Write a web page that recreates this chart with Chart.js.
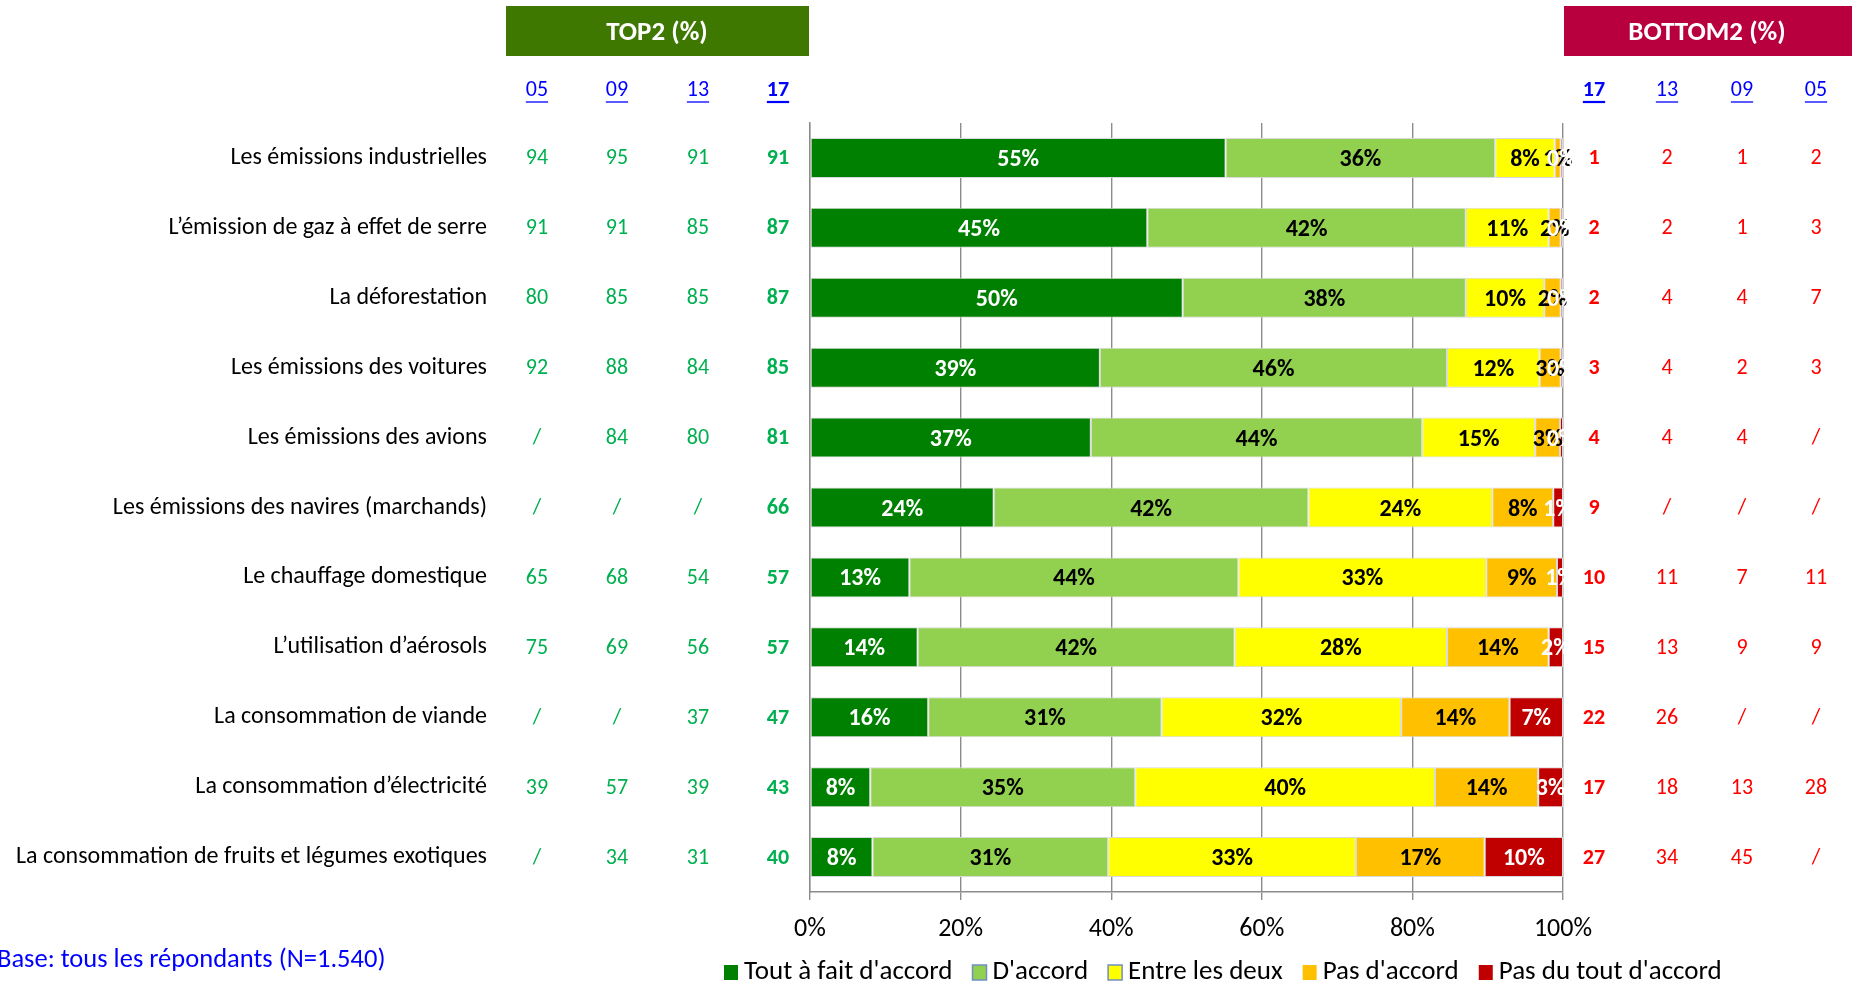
<!DOCTYPE html>
<html>
<head>
<meta charset="utf-8">
<script src="https://cdn.jsdelivr.net/npm/chart.js@4/dist/chart.umd.min.js"></script>
<style>
  html, body { margin: 0; padding: 0; background: #fff; }
  #wrap { width: 1858px; height: 984px; }
</style>
</head>
<body>
<div id="wrap"><canvas id="c" width="1858" height="984"></canvas></div>
<script>
// ---------- DATA ----------
const categories = [
  "Les émissions industrielles",
  "L’émission de gaz à effet de serre",
  "La déforestation",
  "Les émissions des voitures",
  "Les émissions des avions",
  "Les émissions des navires (marchands)",
  "Le chauffage domestique",
  "L’utilisation d’aérosols",
  "La consommation de viande",
  "La consommation d’électricité",
  "La consommation de fruits et légumes exotiques"
];
const seriesNames = ["Tout à fait d'accord", "D'accord", "Entre les deux", "Pas d'accord", "Pas du tout d'accord"];
const toutAFait   = [55.2, 44.8, 49.5, 38.5, 37.3, 24.4, 13.2, 14.3, 15.7,  8.0,  8.3];
const dAccord     = [35.8, 42.3, 37.6, 46.1, 44.0, 41.8, 43.7, 42.1, 31.0, 35.2, 31.3];
const entreDeux   = [ 7.9, 11.0, 10.4, 12.3, 15.0, 24.4, 32.9, 28.2, 31.8, 39.8, 32.9];
const pasDAccord  = [ 0.8,  1.6,  2.2,  2.8,  3.3,  8.1,  9.4, 13.5, 14.4, 13.7, 17.1];
const pasDuTout   = [ 0.3,  0.3,  0.3,  0.3,  0.4,  1.3,  0.8,  1.9,  7.1,  3.3, 10.4];

// TOP2 (%) by wave (null = "/")
const top2Years = ["05", "09", "13", "17"];
const top2_05 = [94, 91, 80, 92, null, null, 65, 75, null, 39, null];
const top2_09 = [95, 91, 85, 88, 84, null, 68, 69, null, 57, 34];
const top2_13 = [91, 85, 85, 84, 80, null, 54, 56, 37, 39, 31];
const top2_17 = [91, 87, 87, 85, 81, 66, 57, 57, 47, 43, 40];
// BOTTOM2 (%) by wave
const bottom2Years = ["17", "13", "09", "05"];
const bot2_17 = [1, 2, 2, 3, 4, 9, 10, 15, 22, 17, 27];
const bot2_13 = [2, 2, 4, 4, 4, null, 11, 13, 26, 18, 34];
const bot2_09 = [1, 1, 4, 2, 4, null, 7, 9, null, 13, 45];
const bot2_05 = [2, 3, 7, 3, null, null, 11, 9, null, 28, null];

const xTickValues = [0, 20, 40, 60, 80, 100];
const baseNote = "Base: tous les répondants (N=1.540)";

// ---------- STYLE ----------
const FONT = 'Carlito, Calibri, Lato, sans-serif';
const colors = ["#008000", "#92D050", "#FFFF00", "#FFC000", "#C00000"];
const labelColors = ["#ffffff", "#000000", "#000000", "#000000", "#ffffff"];
const gridColor = "#8c8c8c";

const seriesValues = [toutAFait, dAccord, entreDeux, pasDAccord, pasDuTout];
const datasets = seriesValues.map((vals, i) => ({
  label: seriesNames[i],
  data: vals,
  backgroundColor: colors[i],
  borderColor: "#d9d9d9",
  borderWidth: 1,
  borderSkipped: false,
  categoryPercentage: 1,
  barPercentage: 0.572
}));

const segLabels = {
  id: 'segLabels',
  afterDatasetsDraw(chart) {
    const ctx = chart.ctx;
    ctx.save();
    ctx.font = 'bold 24px ' + FONT;
    ctx.textAlign = 'center';
    ctx.textBaseline = 'middle';
    chart.data.datasets.forEach((ds, i) => {
      const meta = chart.getDatasetMeta(i);
      ctx.fillStyle = labelColors[i];
      meta.data.forEach((bar, j) => {
        const v = ds.data[j];
        const cx = (bar.x + bar.base) / 2;
        ctx.fillText(Math.round(v) + '%', cx, bar.y + 2);
      });
    });
    ctx.restore();
  }
};

function drawHeaderNum(ctx, txt, x, y, bold) {
  ctx.font = (bold ? 'bold ' : '') + '22px ' + FONT;
  ctx.fillStyle = '#0000FF';
  ctx.textAlign = 'center';
  ctx.textBaseline = 'middle';
  ctx.fillText(txt, x, y);
  const w = ctx.measureText(txt).width;
  ctx.strokeStyle = '#0000FF';
  ctx.lineWidth = bold ? 2.2 : 1.3;
  ctx.beginPath();
  ctx.moveTo(x - w / 2, y + 12);
  ctx.lineTo(x + w / 2, y + 12);
  ctx.stroke();
}

const tables = {
  id: 'tables',
  afterDraw(chart) {
    const ctx = chart.ctx;
    const yScale = chart.scales.y;
    ctx.save();
    // header boxes
    ctx.fillStyle = '#3F7800';
    ctx.fillRect(506, 6, 303, 50);
    ctx.fillStyle = '#B8003F';
    ctx.fillRect(1564, 6, 288, 50);
    ctx.fillStyle = '#ffffff';
    ctx.font = 'bold 27px ' + FONT;
    ctx.textAlign = 'center';
    ctx.textBaseline = 'middle';
    ctx.fillText('TOP2 (%)', 657, 33);
    ctx.fillText('BOTTOM2 (%)', 1707, 33);

    const topX = [537, 617, 698, 778];
    const botX = [1594, 1667, 1742, 1816];
    top2Years.forEach((yr, k) => drawHeaderNum(ctx, yr, topX[k], 90, yr === '17'));
    bottom2Years.forEach((yr, k) => drawHeaderNum(ctx, yr, botX[k], 90, yr === '17'));

    const topCols = [top2_05, top2_09, top2_13, top2_17];
    const botCols = [bot2_17, bot2_13, bot2_09, bot2_05];
    ctx.textBaseline = 'middle';
    categories.forEach((c, j) => {
      const y = yScale.getPixelForValue(j) + 1;
      // category label
      ctx.textAlign = 'right';
      ctx.font = '24px ' + FONT;
      ctx.fillStyle = '#000';
      ctx.fillText(c, 487, y - 1);
      ctx.textAlign = 'center';
      topCols.forEach((col, k) => {
        ctx.font = (k === 3 ? 'bold ' : '') + '22px ' + FONT;
        ctx.fillStyle = '#00B050';
        ctx.fillText(col[j] === null ? '/' : String(col[j]), topX[k], y);
      });
      botCols.forEach((col, k) => {
        ctx.font = (k === 0 ? 'bold ' : '') + '22px ' + FONT;
        ctx.fillStyle = '#FF0000';
        ctx.fillText(col[j] === null ? '/' : String(col[j]), botX[k], y);
      });
    });

    // legend
    ctx.font = '27px ' + FONT;
    ctx.textAlign = 'left';
    ctx.textBaseline = 'middle';
    let lx = 724;
    const ly = 972;
    chart.data.datasets.forEach((ds, i) => {
      ctx.fillStyle = colors[i];
      ctx.fillRect(lx, ly - 7, 14, 15);
      if (i === 1 || i === 2) {
        ctx.strokeStyle = '#6F8FC0';
        ctx.lineWidth = 1.5;
        ctx.strokeRect(lx, ly - 7, 14, 15);
      }
      ctx.fillStyle = '#000';
      ctx.fillText(ds.label, lx + 20, ly);
      lx += 20 + ctx.measureText(ds.label).width + 20;
    });

    // base note
    ctx.fillStyle = '#0000FF';
    ctx.font = '26.5px ' + FONT;
    ctx.textAlign = 'left';
    ctx.fillText(baseNote, -3, 960);
    ctx.restore();
  }
};

new Chart(document.getElementById('c'), {
  type: 'bar',
  data: { labels: categories, datasets },
  options: {
    indexAxis: 'y',
    responsive: false,
    animation: false,
    layout: { padding: { left: 0, right: 1858 - 1563, top: 123, bottom: 0 } },
    scales: {
      x: {
        stacked: true,
        min: 0,
        max: 100,
        afterBuildTicks: (s) => { s.ticks = xTickValues.map(v => ({ value: v })); },
        ticks: {
          callback: (v) => v + '%',
          font: { family: FONT, size: 26 },
          color: '#000',
          padding: 14,
          maxRotation: 0
        },
        grid: { color: gridColor, lineWidth: 1.4, tickLength: 8, drawTicks: true },
        border: { display: true, color: gridColor, width: 1.4 },
        afterFit: (s) => { s.height = 984 - 892; }
      },
      y: {
        stacked: true,
        grid: { display: false, drawTicks: false },
        border: { display: true, color: gridColor, width: 1.4 },
        ticks: { display: false },
        afterFit: (s) => { s.width = 810; }
      }
    },
    plugins: { legend: { display: false }, tooltip: { enabled: false } }
  },
  plugins: [segLabels, tables]
});
</script>
</body>
</html>
